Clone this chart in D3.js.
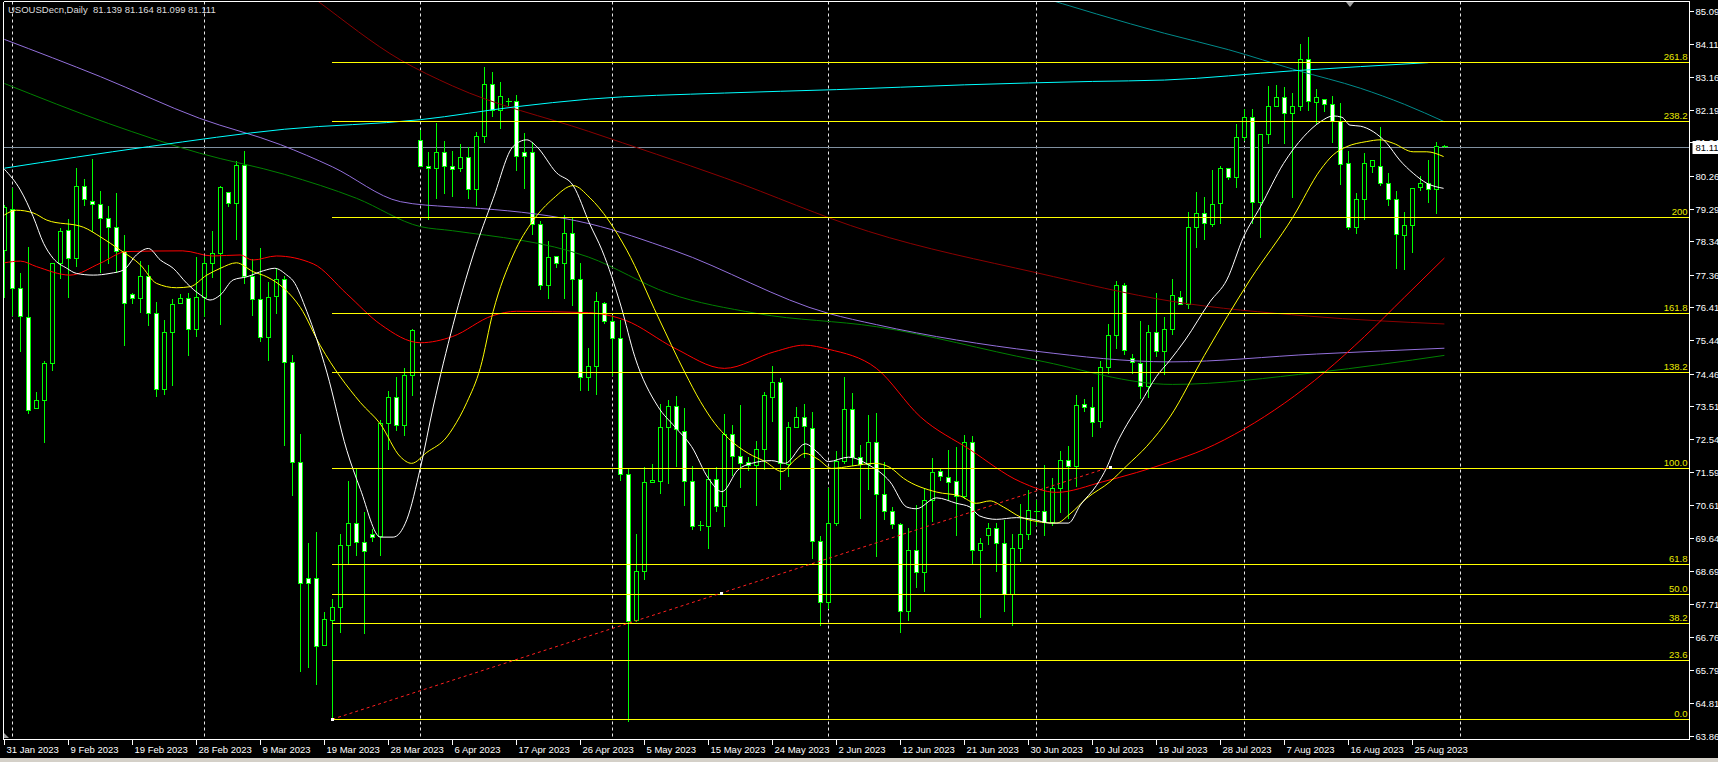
<!DOCTYPE html>
<html>
<head>
<meta charset="utf-8">
<script src="https://cdn.jsdelivr.net/npm/d3@7"></script>
<style>
html, body { margin: 0; padding: 0; background: #000; overflow: hidden; }
svg { display: block; }
text { font-family: "Liberation Sans", Arial, sans-serif; }
</style>
</head>
<body>
<svg id="chart" width="1718" height="762"></svg>
<script>
var width = 1718;
var height = 762;

// daily bars, 31 Jan 2023 .. 30 Aug 2023 (broker keeps sunday bars)
let opens = [78.09,79.28,76.96,76.13,73.47,73.70,74.77,77.70,78.66,77.84,79.96,79.53,79.42,79.01,78.75,78.06,76.80,76.67,77.32,76.23,
	74.01,75.68,76.54,76.67,75.76,76.70,77.70,78.01,79.77,79.45,80.57,77.33,76.64,75.53,76.75,77.23,74.80,71.87,68.47,68.47,
	66.53,67.24,67.62,69.46,70.09,69.55,69.76,69.71,73.01,73.77,72.96,74.42,81.31,80.54,80.48,80.95,80.54,80.48,80.80,79.87,
	81.41,82.93,82.17,82.45,82.45,80.95,80.95,78.86,77.07,77.90,77.69,78.57,77.24,74.38,74.70,76.54,76.01,75.50,71.52,67.25,
	68.70,71.29,71.32,72.89,73.52,72.80,71.32,70.03,70.01,71.37,70.60,72.69,72.06,71.87,71.78,72.25,73.79,74.23,71.82,72.89,
	73.21,72.86,69.58,67.77,70.10,71.92,73.42,72.02,71.82,72.47,70.95,70.43,70.07,67.53,69.31,68.66,70.78,71.61,71.43,71.33,
	70.88,72.45,69.31,69.75,69.96,69.52,68.02,69.36,69.78,70.44,70.44,70.13,71.11,71.95,71.77,73.58,73.48,73.08,74.65,75.59,
	77.05,74.91,74.78,74.10,75.69,75.14,75.76,76.72,76.49,78.75,79.16,78.84,79.45,80.50,80.21,81.40,81.99,79.50,81.47,82.30,
	82.57,82.09,82.31,83.67,82.41,82.52,82.35,81.86,80.62,78.77,79.57,80.54,80.54,80.04,79.57,78.52,78.82,79.94,80.04,79.87,
	81.139];
let highs = [79.40,79.89,77.40,78.16,73.92,74.84,77.70,78.72,78.98,80.49,80.15,80.75,79.81,79.37,79.76,78.52,76.84,77.76,77.65,76.55,
	76.04,76.64,76.80,76.84,77.89,77.89,78.64,79.96,79.77,80.69,80.98,77.81,78.15,77.16,77.55,77.32,75.02,72.70,69.52,69.83,
	67.48,67.87,69.78,71.33,71.69,70.41,69.93,73.11,73.96,74.38,74.64,75.78,81.60,80.96,81.79,81.27,80.99,81.18,81.09,81.53,
	83.43,83.30,82.99,82.54,82.61,81.52,81.24,78.93,78.35,77.90,79.11,79.02,77.69,75.21,76.85,76.57,76.18,76.04,71.69,69.77,
	71.72,71.81,73.58,73.69,73.81,73.47,71.76,70.16,71.69,71.74,73.28,72.96,73.55,72.03,72.49,73.94,74.69,74.35,73.06,73.48,
	73.58,73.35,69.71,71.11,72.20,74.36,73.89,72.38,73.25,73.32,71.87,70.55,70.10,69.94,70.62,71.12,72.01,71.69,72.24,72.32,
	72.68,72.63,69.65,70.10,70.10,70.17,69.78,70.64,71.07,70.78,71.80,71.40,72.19,72.35,73.83,73.71,74.07,74.83,75.93,77.18,
	77.11,75.03,76.01,75.88,76.82,76.11,77.23,76.88,79.19,79.77,79.63,80.43,80.54,80.50,81.76,82.20,82.20,81.47,82.89,82.92,
	82.87,82.67,84.12,84.33,82.79,82.52,82.59,82.38,80.98,79.74,80.92,80.72,81.68,80.33,79.82,79.19,79.91,80.25,80.72,81.24,
	81.164];
let lows = [76.72,76.18,75.14,73.30,73.47,72.47,74.57,77.26,76.70,77.62,79.40,78.65,77.45,77.71,77.45,75.30,76.52,76.28,75.89,73.82,
	73.87,74.13,76.54,75.01,75.57,76.15,77.29,75.92,79.37,78.40,77.13,76.18,75.43,74.87,76.25,72.38,70.91,65.77,65.87,65.39,
	66.53,64.35,66.91,68.89,69.17,66.86,69.58,69.15,72.26,72.82,72.67,73.84,80.54,78.98,79.62,79.74,79.68,80.40,79.62,79.40,
	81.24,82.00,81.66,82.32,80.44,79.91,78.54,76.95,76.67,77.58,76.67,76.48,74.00,74.00,73.86,75.96,74.43,71.35,64.30,67.22,
	68.44,71.29,70.96,71.27,71.77,70.62,69.91,69.89,69.37,70.43,70.01,71.50,71.16,71.64,70.62,71.66,73.09,71.08,71.47,72.89,
	72.03,69.06,67.11,67.60,70.04,71.84,71.79,70.23,71.08,69.12,70.20,69.96,66.90,67.25,68.21,68.11,70.15,71.35,70.80,69.73,
	70.83,68.91,67.35,69.47,68.70,67.53,67.11,68.97,69.62,70.04,69.75,70.04,70.41,70.25,71.17,73.37,72.64,72.89,74.49,75.22,
	75.03,74.49,73.76,73.78,74.98,74.46,75.63,76.49,76.38,78.18,78.41,78.80,78.88,80.15,79.94,81.30,78.87,78.48,81.21,82.30,
	81.23,79.65,82.18,82.18,81.79,82.16,81.26,80.01,78.69,78.59,78.99,80.38,79.99,79.40,77.55,77.52,78.04,79.84,79.48,79.18,
	81.099];
let closes = [79.35,76.96,76.15,73.40,73.70,74.77,77.70,78.64,77.84,79.96,79.57,79.42,79.01,78.75,78.06,76.52,76.67,77.32,76.23,74.01,
	75.68,76.50,76.67,75.76,76.70,77.70,78.01,79.92,79.45,80.57,77.33,76.64,75.53,76.70,77.23,74.80,71.87,68.35,68.35,66.48,
	67.27,67.62,69.46,70.09,69.55,69.26,69.68,73.01,73.77,72.96,74.42,75.74,80.54,80.48,80.95,80.54,80.45,80.80,79.87,81.41,
	82.93,82.17,82.58,82.45,80.84,80.84,78.86,77.07,77.88,77.69,78.57,77.24,74.38,74.70,76.60,76.01,75.50,71.52,67.22,68.70,
	71.29,71.35,72.89,73.52,72.84,71.32,70.02,70.03,71.37,70.60,72.69,72.06,71.86,71.78,72.25,73.83,74.21,71.84,72.89,73.21,
	72.94,69.58,67.77,70.10,71.92,73.42,72.02,71.82,72.47,70.95,70.43,70.07,67.53,69.31,68.66,70.78,71.59,71.46,71.30,70.88,
	72.45,69.31,69.52,69.96,69.52,68.02,69.36,69.78,70.48,70.44,70.13,71.11,71.95,71.77,73.55,73.48,73.06,74.65,75.59,77.05,
	75.17,74.80,74.10,75.69,75.14,75.77,76.76,76.49,78.75,79.16,78.87,79.42,80.50,80.21,81.40,81.99,79.50,81.47,82.31,82.57,
	82.09,82.31,83.67,82.45,82.55,82.35,81.86,80.59,78.77,79.57,80.62,80.72,80.04,79.57,78.55,78.82,79.89,80.04,79.87,81.14,
	81.111];

// moving averages as [bar index, price]
let maWhite = [[0,80.45],[2,79.84],[3.6,79.06],[4.9,78.28],[6.1,77.84],[7.8,77.55],[9,77.4],[11.1,77.35],[13.2,77.4],[14.9,77.5],
	[16.5,77.94],[18,78.13],[19.5,77.79],[21.1,77.55],[22.8,77.11],[24.5,76.77],[25.7,76.62],[27,76.77],[28.6,77.21],[30.3,77.3],
	[32.4,77.48],[33.8,77.55],[35.3,77.35],[36.1,77.18],[37.8,76.29],[40.3,74.51],[42.8,72.22],[44.5,71.08],[47,69.68],[48.6,69.68],
	[50.3,70.19],[52,71.71],[53.6,73.49],[56.1,75.91],[58.6,77.94],[61.1,79.59],[63.6,81.12],[65.3,81.31],[66.5,81.12],[69,80.35],
	[71.1,79.97],[73.2,78.83],[74.7,78.08],[77.1,76.42],[78.8,74.96],[81.7,73.5],[83.8,72.91],[85.9,72.33],[88,71.4],[89.7,71.01],
	[91.7,71.65],[93.4,71.84],[95.9,71.92],[97.6,71.84],[100.1,72.41],[101.7,72.15],[103,71.89],[105.5,72.02],[108,71.8],[110.7,71.3],
	[112.8,70.56],[114,70.51],[116.5,70.83],[119,70.67],[120.7,70.56],[121.9,70.3],[124,70.2],[126.5,70.25],[128.6,70.2],[130.7,70.09],
	[133,70.09],[134.5,70.62],[136.5,71.19],[137.8,71.72],[139,72.4],[140.3,72.97],[142,73.6],[144,74.38],[145.7,74.86],[147.6,75.45],
	[150.7,76.57],[152.8,77.21],[154.9,78.47],[157,79.35],[159.9,80.62],[162.4,81.4],[164.5,81.84],[166.1,82.01],[167.2,81.97],[168.2,81.74],
	[169.5,81.71],[171.1,81.55],[172.8,81.21],[174.4,80.72],[176.1,80.33],[177.8,80.04],[179.9,79.89]];
let maYellow = [[0,79.11],[1.5,79.25],[3.6,79.17],[5.3,78.96],[9.9,78.75],[12,78.47],[14.5,78.08],[17,77.65],[19,77.11],[21.5,76.98],
	[23.2,77.01],[25.3,77.35],[27,77.55],[29,77.71],[31.1,77.45],[32.8,77.3],[35,76.95],[37,76.4],[39.5,75.28],[44.5,73.62],
	[47,72.99],[49.5,72.03],[50.9,71.84],[52.8,72.16],[55.3,72.61],[56.1,72.88],[57.8,73.62],[59.5,74.64],[61.1,76.29],[63.6,77.94],
	[66.1,78.95],[68.6,79.59],[71.1,79.97],[73.2,79.61],[77.8,78.08],[81.7,76.13],[85.1,74.48],[87,73.65],[88.8,73.01],[90.5,72.57],
	[93,72.13],[95.1,71.89],[97.2,71.6],[98.8,71.94],[100.1,72.13],[101.7,71.96],[103.4,71.69],[105.9,71.76],[108.8,71.84],[110.7,71.72],
	[112.4,71.4],[116.5,71.0],[119.5,70.88],[121.5,70.67],[123.2,70.74],[124.9,70.56],[127,70.27],[129,70.14],[131.5,70.09],[133.2,70.36],
	[135.3,70.82],[138.2,71.3],[140.3,71.77],[142.8,72.34],[145.7,73.2],[150,75.0],[155.7,77.21],[161.1,79.06],[164.5,80.43],[166.1,80.87],
	[167.8,81.11],[170.3,81.26],[172,81.31],[173.6,81.21],[176.1,80.96],[177.8,80.96],[179.9,80.82]];
let maRed = [[0,77.71],[2,77.76],[4,77.6],[8.2,77.35],[12,77.7],[15.3,78.04],[22.3,78.06],[26,77.91],[29.5,77.94],[31,77.79],
	[34,77.91],[38.6,77.68],[42.8,76.8],[47,75.91],[52,75.37],[56,75.55],[61,76.16],[64,76.29],[73,76.25],[77.6,76.03],
	[83.8,75.21],[90,74.62],[96.3,75.11],[100,75.3],[103,75.18],[109,74.62],[114.5,73.2],[120.7,72.24],[127,71.3],[131.5,70.99],
	[137.3,71.3],[145.7,71.88],[150,72.25],[155,72.85],[160,73.6],[165,74.5],[170,75.55],[175,76.7],[180,77.85]];
let maDarkRed = [[35,86.1],[39,85.4],[49.5,83.65],[56,82.89],[73,81.56],[90,80.2],[108,78.63],[129,77.42],[146,76.58],[163,76.15],[180,75.92]];
let maPurple = [[0,84.25],[12,83.16],[24.4,81.94],[34.5,81.17],[41,80.52],[49.5,79.5],[55.7,79.35],[59.5,79.3],[73.2,78.85],[83.6,78.08],
	[103,76.23],[109,75.9],[129,75.12],[145.7,74.81],[164,75.04],[180,75.21]];
let maGreen = [[0,82.96],[13,81.79],[24.4,80.92],[35,80.3],[44,79.6],[52,78.77],[56,78.65],[73,77.88],[83,76.82],[94,76.23],
	[109,75.84],[129,74.86],[146,74.15],[164,74.5],[180,75.0]];
let maCyan = [[0,80.48],[18,81.11],[35,81.62],[52,81.9],[64,82.28],[73,82.5],[90,82.68],[104,82.78],[120,82.92],[136,83.02],
	[145,83.06],[161,83.33],[178,83.57]];
let maTeal = [[128,85.6],[145,84.43],[153,83.95],[161.5,83.35],[169.5,82.82],[175,82.35],[180,81.84]];

// fibonacci from the 20 Mar low
let fibStartBar = 41;
let fibLow = 64.35, fibHigh = 71.70;
let fibLevels = [0, 23.6, 38.2, 50, 61.8, 100, 138.2, 161.8, 200, 238.2, 261.8];
let fibLabels = ["0.0", "23.6", "38.2", "50.0", "61.8", "100.0", "138.2", "161.8", "200", "238.2", "261.8"];

// dotted trend line
let trendFrom = [41, 64.35], trendTo = [138.2, 71.73];

let priceTicks = ["85.09","84.11","83.16","82.19","81.24","80.26","79.29","78.34","77.36","76.41","75.44","74.46",
	"73.51","72.54","71.59","70.61","69.64","68.69","67.71","66.76","65.79","64.81","63.86"];
let dateLabels = ["31 Jan 2023","9 Feb 2023","19 Feb 2023","28 Feb 2023","9 Mar 2023","19 Mar 2023","28 Mar 2023","6 Apr 2023",
	"17 Apr 2023","26 Apr 2023","5 May 2023","15 May 2023","24 May 2023","2 Jun 2023","12 Jun 2023","21 Jun 2023","30 Jun 2023",
	"10 Jul 2023","19 Jul 2023","28 Jul 2023","7 Aug 2023","16 Aug 2023","25 Aug 2023"];
let dateEvery = 8;
let monthBars = [1, 25, 52, 76, 103, 129, 155, 182];
let lastQuote = ["81.139", "81.164", "81.099", "81.111"];
let symbolName = "USOUSDecn,Daily";

let plotLeft = 3.5, plotTop = 1.5, plotRight = 1689.5, plotBottom = 739.5;

let x = d3.scaleLinear().domain([0, 210]).range([4.4, 4.4 + 210 * 8]);
let y = d3.scaleLinear().domain([63.77, 85.345]).range([739, 2]);

let svg = d3.select("#chart");
svg.append("rect").attr("width", width).attr("height", height).attr("fill", "#000");

svg.append("defs").append("clipPath").attr("id", "plotclip")
	.append("rect").attr("x", plotLeft + 0.5).attr("y", plotTop + 0.5)
	.attr("width", plotRight - plotLeft - 1).attr("height", plotBottom - plotTop - 1);

let plot = svg.append("g").attr("clip-path", "url(#plotclip)");

function px(v) { return Math.round(v) + 0.5; }

// month separators
plot.append("g").selectAll("line").data(monthBars).enter().append("line")
	.attr("x1", d => px(x(d))).attr("x2", d => px(x(d)))
	.attr("y1", plotTop).attr("y2", plotBottom)
	.attr("stroke", "#e8e8e8").attr("stroke-dasharray", "3,3");

// current price line
plot.append("line").attr("x1", plotLeft).attr("x2", plotRight)
	.attr("y1", px(y(+lastQuote[3]))).attr("y2", px(y(+lastQuote[3])))
	.attr("stroke", "#8090a0");

// candles
let bars = d3.range(opens.length).map(function (i) {
	return {i: i, o: opens[i], h: highs[i], l: lows[i], c: closes[i]};
});
let candles = plot.append("g").attr("shape-rendering", "crispEdges");
bars.forEach(function (d) {
	let cx = px(x(d.i));
	candles.append("line").attr("x1", cx).attr("x2", cx)
		.attr("y1", Math.round(y(d.h))).attr("y2", Math.round(y(d.l)) + 1)
		.attr("stroke", "#00ff00");
	let t = Math.round(y(Math.max(d.o, d.c))), b = Math.round(y(Math.min(d.o, d.c)));
	if (b - t < 2) {
		candles.append("line").attr("x1", cx - 3).attr("x2", cx + 3)
			.attr("y1", t + 0.5).attr("y2", t + 0.5).attr("stroke", "#00ff00");
	} else {
		candles.append("rect").attr("x", cx - 2).attr("y", t + 0.5)
			.attr("width", 4).attr("height", b - t)
			.attr("fill", d.c < d.o ? "#ffffff" : "#000000")
			.attr("stroke", "#00ff00");
	}
});

// moving averages
let maLine = d3.line().x(d => x(d[0])).y(d => y(d[1])).curve(d3.curveMonotoneX);
let maList = [
	{pts: maDarkRed, color: "#8b0000"},
	{pts: maTeal, color: "#008b8b"},
	{pts: maGreen, color: "#008000"},
	{pts: maPurple, color: "#9370db"},
	{pts: maCyan, color: "#00ffff"},
	{pts: maRed, color: "#ff0000"},
	{pts: maYellow, color: "#ffff00"},
	{pts: maWhite, color: "#ffffff"}
];
plot.append("g").selectAll("path").data(maList).enter().append("path")
	.attr("d", d => maLine(d.pts))
	.attr("fill", "none")
	.attr("stroke", d => d.color)
	.attr("stroke-width", 1);

// fibonacci levels
let fib = plot.append("g");
fibLevels.forEach(function (lv, k) {
	let py = px(y(fibLow + (fibHigh - fibLow) * lv / 100));
	fib.append("line").attr("x1", Math.round(x(fibStartBar))).attr("x2", plotRight)
		.attr("y1", py).attr("y2", py).attr("stroke", "#ffff00").attr("shape-rendering", "crispEdges");
	fib.append("text").attr("x", plotRight - 2).attr("y", py - 2.5)
		.attr("text-anchor", "end").attr("font-size", "9.5px").attr("fill", "#e8e800")
		.text(fibLabels[k]);
});

// trend line
plot.append("line")
	.attr("x1", x(trendFrom[0])).attr("y1", y(trendFrom[1]))
	.attr("x2", x(trendTo[0])).attr("y2", y(trendTo[1]))
	.attr("stroke", "#ff2020").attr("stroke-dasharray", "3,3");
[trendFrom, [(trendFrom[0] + trendTo[0]) / 2, (trendFrom[1] + trendTo[1]) / 2], trendTo].forEach(function (p) {
	plot.append("rect").attr("x", Math.round(x(p[0])) - 1).attr("y", Math.round(y(p[1])) - 1)
		.attr("width", 3).attr("height", 3).attr("fill", "#ffffff");
});

// frame
let frame = svg.append("g").attr("stroke", "#ffffff").attr("shape-rendering", "crispEdges");
frame.append("line").attr("x1", plotLeft).attr("x2", plotLeft).attr("y1", plotTop).attr("y2", plotBottom);
frame.append("line").attr("x1", plotLeft).attr("x2", plotRight).attr("y1", plotTop).attr("y2", plotTop);
frame.append("line").attr("x1", plotRight).attr("x2", plotRight).attr("y1", plotTop).attr("y2", plotBottom);
frame.append("line").attr("x1", plotLeft).attr("x2", plotRight).attr("y1", plotBottom).attr("y2", plotBottom);

// price axis
let yAxis = svg.append("g");
priceTicks.forEach(function (t) {
	let py = px(y(+t));
	yAxis.append("line").attr("x1", plotRight).attr("x2", plotRight + 4).attr("y1", py).attr("y2", py)
		.attr("stroke", "#ffffff").attr("shape-rendering", "crispEdges");
	yAxis.append("text").attr("x", plotRight + 6).attr("y", py + 3.5)
		.attr("font-size", "9.5px").attr("fill", "#ffffff").text(t);
});
let qy = Math.round(y(+lastQuote[3]));
yAxis.append("rect").attr("x", plotRight + 3).attr("y", qy - 6).attr("width", 30).attr("height", 13).attr("fill", "#ffffff");
yAxis.append("text").attr("x", plotRight + 6).attr("y", qy + 3.5)
	.attr("font-size", "9.5px").attr("fill", "#000000").text((+lastQuote[3]).toFixed(2));

// time axis
let xAxis = svg.append("g");
dateLabels.forEach(function (t, k) {
	let bx = px(x(k * dateEvery));
	xAxis.append("line").attr("x1", bx).attr("x2", bx).attr("y1", plotBottom).attr("y2", plotBottom + 5)
		.attr("stroke", "#ffffff").attr("shape-rendering", "crispEdges");
	xAxis.append("text").attr("x", bx + 2).attr("y", 753)
		.attr("font-size", "9.5px").attr("fill", "#ffffff").text(t);
});

// title
svg.append("text").attr("x", 8).attr("y", 13)
	.attr("font-size", "9.5px").attr("fill", "#dcdcdc")
	.attr("xml:space", "preserve")
	.text(symbolName + "  " + lastQuote.join(" "));

// small markers from the terminal
svg.append("path").attr("d", "M1346,2 L1354,2 L1350,7 Z").attr("fill", "#a0a0a0");
svg.append("path").attr("d", "M4,733 L4,738 L9,738 Z").attr("fill", "#a0a0a0");
svg.append("rect").attr("x", 0).attr("y", 758).attr("width", width).attr("height", 4).attr("fill", "#d4d0c8");
</script>
</body>
</html>
